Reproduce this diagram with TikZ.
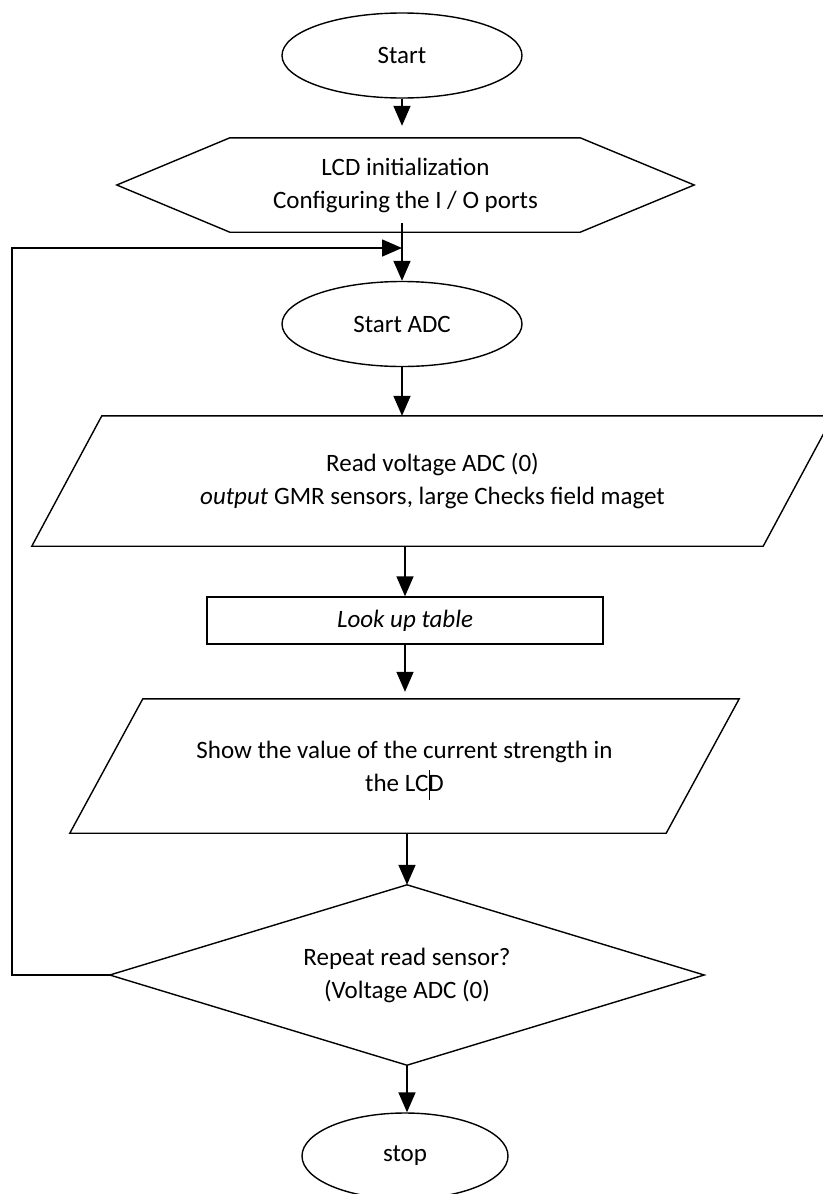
\documentclass[tikz,border=0pt]{standalone}
\usepackage{fontspec}
\setmainfont{Carlito}
\usetikzlibrary{arrows.meta,shapes.geometric,calc}
\begin{document}
\begin{tikzpicture}[x=1pt,y=-1pt,
  font=\fontsize{25pt}{33pt}\selectfont,
  outline/.style={draw=black, line width=1.4pt},
  oval/.style={ellipse, outline, minimum width=240pt, minimum height=85pt, inner sep=0pt},
  boxarea/.style={draw=none, inner sep=0pt, align=center},
  arr/.style={line width=1.6pt, -{Triangle[length=20pt,width=17pt]}},
]
\useasboundingbox[fill=white] (0,0) rectangle (822,1194);

\node[oval] (start) at (402,55.5) {Start};

\node[boxarea, minimum width=577pt, minimum height=94pt] (hex) at (405.5,185) {LCD initialization\\Configuring the I / O ports};
\draw[outline] (hex.west) -- ($(hex.north west)+(113,0)$) -- ($(hex.north east)+(-114,0)$) -- (hex.east) -- ($(hex.south east)+(-114,0)$) -- ($(hex.south west)+(113,0)$) -- cycle;

\node[oval] (adc) at (402,324) {Start ADC};

\node[boxarea, minimum width=801pt, minimum height=130pt] (p1) at (432.5,481) {Read voltage ADC (0)\\\textit{output} GMR sensors, large Checks field maget};
\draw[outline] (p1.south west) -- ($(p1.north west)+(70,0)$) -- (p1.north east) -- ($(p1.south east)+(-70,0)$) -- cycle;

\node[outline, minimum width=396pt, minimum height=47pt, inner sep=0pt] (lut) at (405,620.5) {\textit{Look up table}};

\node[boxarea, minimum width=669pt, minimum height=134pt] (p2) at (404.5,766) {Show the value of the current strength in\\the LCD};
\draw[outline] (p2.south west) -- ($(p2.north west)+(73,0)$) -- (p2.north east) -- ($(p2.south east)+(-73,0)$) -- cycle;

\node[boxarea, minimum width=594pt, minimum height=180pt] (dec) at (407,975) {Repeat read sensor?\\(Voltage ADC (0)};
\draw[outline] (dec.north) -- (dec.east) -- (dec.south) -- (dec.west) -- cycle;

\node[oval, minimum width=206pt, minimum height=86pt] (stop) at (405,1156) {stop};

\coordinate (loopL) at (12,248);
\coordinate (loopR) at (adc.north |- loopL);

\draw[arr, shorten >=12pt] (start.south) -- (start.south |- hex.north);
\draw[arr] ($(hex.south -| adc.north)+(0,-9)$) -- (adc.north);
\draw[arr] (adc.south) -- (adc.south |- p1.north);
\draw[arr] (lut.north |- p1.south) -- (lut.north);
\draw[arr, shorten >=7pt] (lut.south) -- (lut.south |- p2.north);
\draw[arr] (dec.north |- p2.south) -- (dec.north);
\draw[arr] (dec.south) -- (dec.south |- stop.north);
\draw[arr] (dec.west) -| (loopL) -- (loopR);

\draw[line width=1pt] (429.5,770) -- (429.5,800);
\end{tikzpicture}
\end{document}
